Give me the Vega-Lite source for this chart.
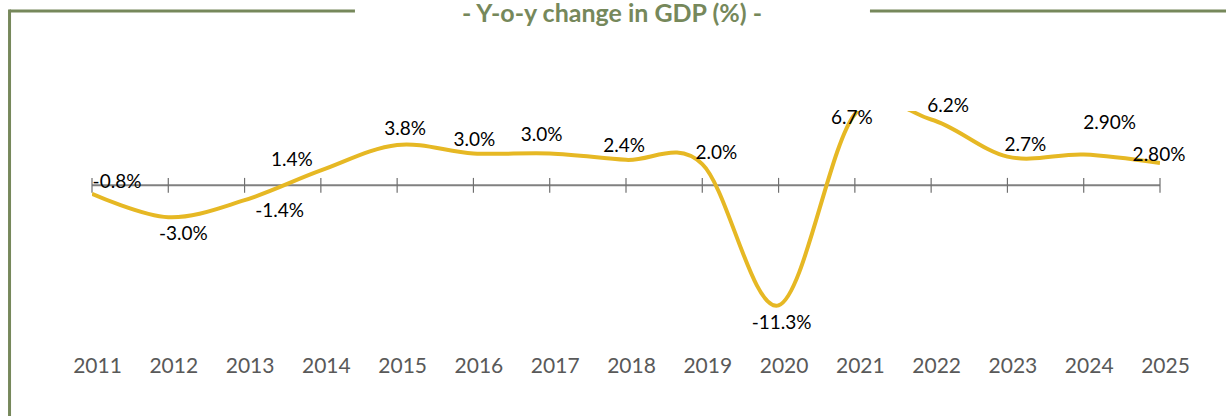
{
  "$schema": "https://vega.github.io/schema/vega-lite/v6.json",
  "width": 1068,
  "height": 223,
  "autosize": {"type": "none"},
  "padding": {"left": 92, "top": 111, "right": 66, "bottom": 82},
  "background": "white",
  "title": {"text": "- Y-o-y change in GDP (%) -", "frame": "group", "anchor": "middle", "baseline": "middle", "offset": -31, "dx": -14, "font": "Lato", "fontSize": 25, "fontWeight": "bold", "color": "#76885b"},
  "config": {
    "view": {"stroke": null},
    "text": {"font": "Lato", "fontSize": 19, "color": "#000000", "align": "center", "baseline": "middle"},
    "axisX": {"domain": false, "ticks": false, "grid": false, "labelFont": "Lato", "labelFontSize": 21, "labelColor": "#595959", "labelPadding": 32, "labelBaseline": "middle", "labelOffset": 5, "labelFlush": false, "labelOverlap": false, "format": "d"}
  },
  "data": {"values": [
    {"year": 2011, "gdp": -0.8, "label": "-0.8%"},
    {"year": 2012, "gdp": -3.0, "label": "-3.0%"},
    {"year": 2013, "gdp": -1.4, "label": "-1.4%"},
    {"year": 2014, "gdp": 1.4, "label": "1.4%"},
    {"year": 2015, "gdp": 3.8, "label": "3.8%"},
    {"year": 2016, "gdp": 3.0, "label": "3.0%"},
    {"year": 2017, "gdp": 3.0, "label": "3.0%"},
    {"year": 2018, "gdp": 2.4, "label": "2.4%"},
    {"year": 2019, "gdp": 2.0, "label": "2.0%"},
    {"year": 2020, "gdp": -11.3, "label": "-11.3%"},
    {"year": 2021, "gdp": 6.7, "label": "6.7%"},
    {"year": 2022, "gdp": 6.2, "label": "6.2%"},
    {"year": 2023, "gdp": 2.7, "label": "2.7%"},
    {"year": 2024, "gdp": 2.9, "label": "2.90%"},
    {"year": 2025, "gdp": 2.1, "label": "2.80%"}
  ]},
  "layer": [
    {
      "data": {"values": [{}]},
      "mark": {"type": "rule", "color": "#76885b", "strokeWidth": 3},
      "encoding": {
        "x": {"datum": 2009.919, "type": "quantitative", "title": null, "scale": {"domain": [2011, 2025], "nice": false, "zero": false}, "axis": {"values": [2011, 2012, 2013, 2014, 2015, 2016, 2017, 2018, 2019, 2020, 2021, 2022, 2023, 2024, 2025], "title": null}},
        "x2": {"datum": 2014.447},
        "y": {"datum": 16.41, "type": "quantitative", "scale": {"domain": [-14, 7], "nice": false, "zero": false}, "axis": null}
      }
    },
    {
      "data": {"values": [{}]},
      "mark": {"type": "rule", "color": "#76885b", "strokeWidth": 3},
      "encoding": {
        "x": {"datum": 2021.198, "type": "quantitative", "title": null, "scale": {"domain": [2011, 2025], "nice": false, "zero": false}, "axis": {"values": [2011, 2012, 2013, 2014, 2015, 2016, 2017, 2018, 2019, 2020, 2021, 2022, 2023, 2024, 2025], "title": null}},
        "x2": {"datum": 2026.6},
        "y": {"datum": 16.41, "type": "quantitative", "scale": {"domain": [-14, 7], "nice": false, "zero": false}, "axis": null}
      }
    },
    {
      "data": {"values": [{}]},
      "mark": {"type": "rule", "color": "#76885b", "strokeWidth": 3},
      "encoding": {
        "x": {"datum": 2009.919, "type": "quantitative", "title": null, "scale": {"domain": [2011, 2025], "nice": false, "zero": false}, "axis": {"values": [2011, 2012, 2013, 2014, 2015, 2016, 2017, 2018, 2019, 2020, 2021, 2022, 2023, 2024, 2025], "title": null}},
        "y": {"datum": 16.55, "type": "quantitative", "scale": {"domain": [-14, 7], "nice": false, "zero": false}, "axis": null},
        "y2": {"datum": -23}
      }
    },
    {
      "data": {"values": [{}]},
      "mark": {"type": "rule", "color": "#808080", "strokeWidth": 2},
      "encoding": {
        "x": {"datum": 2011, "type": "quantitative", "title": null, "scale": {"domain": [2011, 2025], "nice": false, "zero": false}, "axis": {"values": [2011, 2012, 2013, 2014, 2015, 2016, 2017, 2018, 2019, 2020, 2021, 2022, 2023, 2024, 2025], "title": null}},
        "x2": {"datum": 2025},
        "y": {"datum": 0, "type": "quantitative", "scale": {"domain": [-14, 7], "nice": false, "zero": false}, "axis": null}
      }
    },
    {
      "mark": {"type": "rule", "color": "#707070", "strokeWidth": 1.2},
      "encoding": {
        "x": {"field": "year", "type": "quantitative", "title": null, "scale": {"domain": [2011, 2025], "nice": false, "zero": false}, "axis": {"values": [2011, 2012, 2013, 2014, 2015, 2016, 2017, 2018, 2019, 2020, 2021, 2022, 2023, 2024, 2025], "title": null}},
        "y": {"datum": -0.7, "type": "quantitative", "scale": {"domain": [-14, 7], "nice": false, "zero": false}, "axis": null},
        "y2": {"datum": 0.7}
      }
    },
    {
      "mark": {"type": "line", "interpolate": "cardinal", "tension": 0, "color": "#e6b824", "strokeWidth": 4, "clip": true},
      "encoding": {
        "x": {"field": "year", "type": "quantitative", "title": null, "scale": {"domain": [2011, 2025], "nice": false, "zero": false}, "axis": {"values": [2011, 2012, 2013, 2014, 2015, 2016, 2017, 2018, 2019, 2020, 2021, 2022, 2023, 2024, 2025], "title": null}},
        "y": {"field": "gdp", "type": "quantitative", "scale": {"domain": [-14, 7], "nice": false, "zero": false}, "axis": null}
      }
    },
    {
      "encoding": {
        "x": {"field": "year", "type": "quantitative", "title": null, "scale": {"domain": [2011, 2025], "nice": false, "zero": false}, "axis": {"values": [2011, 2012, 2013, 2014, 2015, 2016, 2017, 2018, 2019, 2020, 2021, 2022, 2023, 2024, 2025], "title": null}},
        "y": {"field": "gdp", "type": "quantitative", "scale": {"domain": [-14, 7], "nice": false, "zero": false}, "axis": null},
        "text": {"field": "label", "type": "nominal"}
      },
      "layer": [
        {"transform": [{"filter": "datum.year == 2011"}], "mark": {"type": "text", "dx": 25, "dy": -12}},
        {"transform": [{"filter": "datum.year == 2012"}], "mark": {"type": "text", "dx": 15, "dy": 17}},
        {"transform": [{"filter": "datum.year == 2013"}], "mark": {"type": "text", "dx": 35, "dy": 11}},
        {"transform": [{"filter": "datum.year == 2014"}], "mark": {"type": "text", "dx": -29, "dy": -10}},
        {"transform": [{"filter": "datum.year == 2015"}], "mark": {"type": "text", "dx": 8, "dy": -16}},
        {"transform": [{"filter": "datum.year == 2016"}], "mark": {"type": "text", "dx": 1, "dy": -13}},
        {"transform": [{"filter": "datum.year == 2017"}], "mark": {"type": "text", "dx": -8, "dy": -18}},
        {"transform": [{"filter": "datum.year == 2018"}], "mark": {"type": "text", "dx": -2, "dy": -14}},
        {"transform": [{"filter": "datum.year == 2019"}], "mark": {"type": "text", "dx": 14, "dy": -11}},
        {"transform": [{"filter": "datum.year == 2020"}], "mark": {"type": "text", "dx": 3, "dy": 18}},
        {"transform": [{"filter": "datum.year == 2021"}], "mark": {"type": "text", "dx": -3, "dy": 4}},
        {"transform": [{"filter": "datum.year == 2022"}], "mark": {"type": "text", "dx": 17, "dy": -13}},
        {"transform": [{"filter": "datum.year == 2023"}], "mark": {"type": "text", "dx": 18, "dy": -12}},
        {"transform": [{"filter": "datum.year == 2024"}], "mark": {"type": "text", "dx": 26, "dy": -32}},
        {"transform": [{"filter": "datum.year == 2025"}], "mark": {"type": "text", "dx": -1, "dy": -8}}
      ]
    }
  ]
}
